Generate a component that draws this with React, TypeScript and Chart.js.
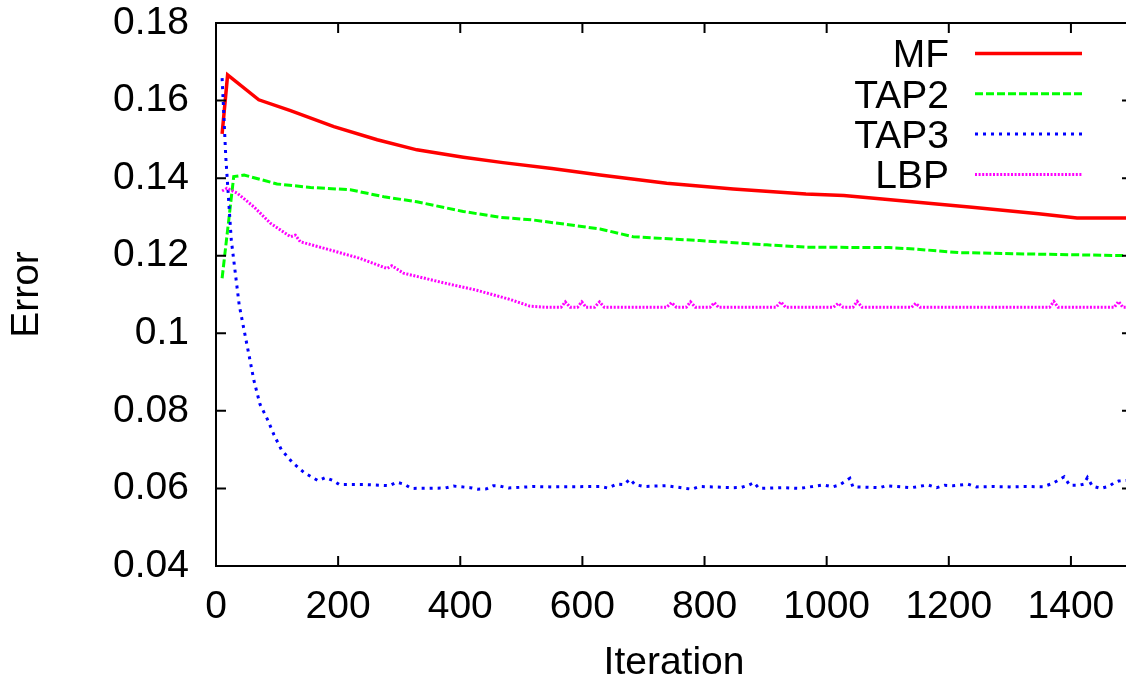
import React, { useEffect, useRef } from "react";
import { Chart, registerables } from "chart.js";

Chart.register(...registerables);

// ---------- data ----------
const xTicks = [0, 200, 400, 600, 800, 1000, 1200, 1400];
const yTicks = [0.04, 0.06, 0.08, 0.1, 0.12, 0.14, 0.16, 0.18];
const yTickLabels = ["0.04", "0.06", "0.08", "0.1", "0.12", "0.14", "0.16", "0.18"];

const seriesLabels = ["MF", "TAP2", "TAP3", "LBP"];

const mfX = [10, 19, 70, 122, 193, 264, 329, 405, 470, 550, 629, 738, 847, 966, 1028, 1091, 1238, 1347, 1410, 1500];
const mfY = [0.1514, 0.1666, 0.1602, 0.1574, 0.1533, 0.1499, 0.1473, 0.1454, 0.144, 0.1425, 0.1408, 0.1387, 0.1372, 0.1359, 0.1355, 0.1346, 0.1325, 0.1308, 0.1297, 0.1297];

const tap2X = [10, 29, 46, 100, 155, 220, 275, 329, 405, 465, 520, 629, 683, 792, 902, 966, 1102, 1146, 1217, 1347, 1500];
const tap2Y = [0.1142, 0.1404, 0.1408, 0.1385, 0.1376, 0.137, 0.1352, 0.1339, 0.1314, 0.1299, 0.1292, 0.1269, 0.1249, 0.1239, 0.1228, 0.1222, 0.1221, 0.1217, 0.1208, 0.1204, 0.12];

const tap3X = [10, 16, 25, 38, 46, 54, 62, 72, 84, 95, 107, 125, 144, 167, 179, 192, 202, 242, 284, 296, 308, 320, 375, 389, 416, 429, 443, 454, 465, 479, 520, 547, 629, 642, 656, 668, 678, 686, 700, 738, 779, 792, 847, 861, 873, 881, 889, 929, 956, 994, 1010, 1021, 1038, 1043, 1087, 1098, 1139, 1166, 1180, 1193, 1207, 1231, 1245, 1272, 1299, 1327, 1354, 1370, 1389, 1398, 1413, 1421, 1427, 1435, 1449, 1463, 1471, 1478, 1500];
const tap3Y = [0.1658, 0.1455, 0.1241, 0.1073, 0.1008, 0.0944, 0.0879, 0.0817, 0.0779, 0.0738, 0.07, 0.0667, 0.0641, 0.062, 0.0628, 0.062, 0.061, 0.061, 0.0607, 0.0616, 0.0611, 0.06, 0.0601, 0.0606, 0.0602, 0.0598, 0.0599, 0.0607, 0.0606, 0.0601, 0.0605, 0.0604, 0.0605, 0.0601, 0.0611, 0.061, 0.0624, 0.061, 0.0605, 0.0607, 0.0598, 0.0605, 0.0602, 0.0603, 0.0609, 0.0615, 0.06, 0.0602, 0.06, 0.0609, 0.0604, 0.0609, 0.0626, 0.0604, 0.0602, 0.0607, 0.0602, 0.0609, 0.0602, 0.0608, 0.0607, 0.0611, 0.0604, 0.0605, 0.0604, 0.0605, 0.0604, 0.0613, 0.063, 0.0608, 0.0608, 0.0611, 0.0628, 0.0606, 0.06, 0.0606, 0.0615, 0.0619, 0.0622];

const lbpX = [10, 18, 35, 62, 89, 122, 130, 138, 182, 236, 280, 288, 307, 373, 427, 482, 514, 540, 565, 572, 580, 592, 599, 606, 620, 628, 636, 738, 746, 754, 770, 777, 785, 809, 816, 823, 917, 925, 933, 1011, 1019, 1027, 1043, 1050, 1058, 1139, 1146, 1153, 1365, 1372, 1379, 1471, 1478, 1485, 1500];
const lbpY = [0.1367, 0.1374, 0.1361, 0.1326, 0.1284, 0.1249, 0.1253, 0.1236, 0.1217, 0.1193, 0.1167, 0.1174, 0.1155, 0.113, 0.1111, 0.1087, 0.107, 0.1067, 0.1067, 0.1081, 0.1067, 0.1067, 0.1081, 0.1067, 0.1067, 0.1081, 0.1067, 0.1067, 0.1079, 0.1067, 0.1067, 0.1081, 0.1067, 0.1067, 0.1079, 0.1067, 0.1067, 0.1081, 0.1067, 0.1067, 0.1077, 0.1067, 0.1067, 0.1082, 0.1067, 0.1067, 0.1077, 0.1067, 0.1067, 0.1082, 0.1067, 0.1067, 0.1082, 0.1067, 0.1067];

const FONT = '"Liberation Sans", Arial, sans-serif';
const FS = 39;

const zip = (xs: number[], ys: number[]) => xs.map((x, i) => ({ x, y: ys[i] }));

const framePlugin = {
  id: "gnuframe",
  afterDatasetsDraw(chart: any) {
    const { ctx, chartArea, scales } = chart;
    const { left, right, top, bottom } = chartArea;
    ctx.save();
    ctx.strokeStyle = "#000";
    ctx.lineWidth = 2;
    ctx.lineCap = "butt";
    ctx.strokeRect(left, top, right - left, bottom - top);
    const tl = 10;
    ctx.beginPath();
    xTicks.forEach((v) => {
      const px = scales.x.getPixelForValue(v);
      ctx.moveTo(px, bottom);
      ctx.lineTo(px, bottom - tl);
      ctx.moveTo(px, top);
      ctx.lineTo(px, top + tl);
    });
    yTicks.forEach((v) => {
      const py = scales.y.getPixelForValue(v);
      ctx.moveTo(left, py);
      ctx.lineTo(left + tl, py);
      ctx.moveTo(right, py);
      ctx.lineTo(right - tl, py);
    });
    ctx.stroke();
    ctx.restore();
  },
};

const legendPlugin = {
  id: "gnulegend",
  afterDraw(chart: any) {
    const { ctx } = chart;
    ctx.save();
    chart.data.datasets.forEach((ds: any, i: number) => {
      const cy = 53.5 + i * 40.3;
      ctx.fillStyle = "#000";
      ctx.font = `${FS}px ${FONT}`;
      ctx.textAlign = "right";
      ctx.textBaseline = "alphabetic";
      ctx.fillText(ds.label, 949, cy + 0.358 * FS);
      ctx.strokeStyle = ds.borderColor;
      ctx.lineWidth = ds.borderWidth;
      ctx.setLineDash(ds.borderDash || []);
      ctx.lineCap = "butt";
      ctx.beginPath();
      ctx.moveTo(975, cy);
      ctx.lineTo(1082, cy);
      ctx.stroke();
    });
    ctx.restore();
  },
};

export default function App() {
  const ref = useRef<HTMLCanvasElement | null>(null);
  useEffect(() => {
    if (!ref.current) return;
    document.body.style.margin = "0";
    document.body.style.overflow = "hidden";
    const chart = new Chart(ref.current, {
      type: "line",
      data: {
        datasets: [
          { label: seriesLabels[0], data: zip(mfX, mfY), borderColor: "#ff0000", borderWidth: 3.5, borderDash: [], order: 4 },
          { label: seriesLabels[1], data: zip(tap2X, tap2Y), borderColor: "#00ff00", borderWidth: 3, borderDash: [8, 3], order: 3 },
          { label: seriesLabels[2], data: zip(tap3X, tap3Y), borderColor: "#0000ff", borderWidth: 3, borderDash: [3, 5], order: 2 },
          { label: seriesLabels[3], data: zip(lbpX, lbpY), borderColor: "#ff00ff", borderWidth: 3, borderDash: [2, 1.6], order: 1 },
        ].map((d) => ({ ...d, pointRadius: 0, tension: 0, fill: false, borderCapStyle: "butt" as const })),
      },
      options: {
        animation: false,
        responsive: false,
        devicePixelRatio: 1,
        layout: { padding: { top: 23, right: 8, left: 0, bottom: 0 } },
        plugins: { legend: { display: false }, tooltip: { enabled: false } },
        scales: {
          x: {
            type: "linear",
            min: 0,
            max: 1500,
            grid: { display: false, drawTicks: false },
            border: { display: false },
            afterBuildTicks: (s: any) => {
              s.ticks = xTicks.map((v) => ({ value: v }));
            },
            afterFit: (s: any) => {
              s.height = 118;
              s.paddingLeft = 0;
              s.paddingRight = 0;
            },
            ticks: {
              color: "#000",
              font: { family: FONT, size: FS, lineHeight: 1 },
              padding: 22,
              maxRotation: 0,
              autoSkip: false,
              callback: (v: any) => String(v),
            },
            title: {
              display: true,
              text: "Iteration",
              color: "#000",
              font: { family: FONT, size: FS, lineHeight: 1 },
              padding: { top: 0, bottom: 1.5 },
            },
          },
          y: {
            type: "linear",
            min: 0.04,
            max: 0.18,
            grid: { display: false, drawTicks: false },
            border: { display: false },
            afterBuildTicks: (s: any) => {
              s.ticks = yTicks.map((v) => ({ value: v }));
            },
            afterFit: (s: any) => {
              s.width = 216;
              s.paddingTop = 0;
              s.paddingBottom = 0;
            },
            ticks: {
              color: "#000",
              font: { family: FONT, size: FS, lineHeight: 1 },
              padding: 27,
              autoSkip: false,
              callback: (_v: any, i: number) => yTickLabels[i],
            },
            title: {
              display: true,
              text: "Error",
              color: "#000",
              font: { family: FONT, size: FS, lineHeight: 1 },
              padding: { top: 8, bottom: 0 },
            },
          },
        },
      },
      plugins: [framePlugin, legendPlugin],
    });
    return () => chart.destroy();
  }, []);
  return (
    <div style={{ position: "fixed", left: 0, top: 0, width: 1126, height: 684, overflow: "hidden", background: "#fff" }}>
      <canvas ref={ref} width={1140} height={684} style={{ width: 1140, height: 684, display: "block" }} />
    </div>
  );
}
